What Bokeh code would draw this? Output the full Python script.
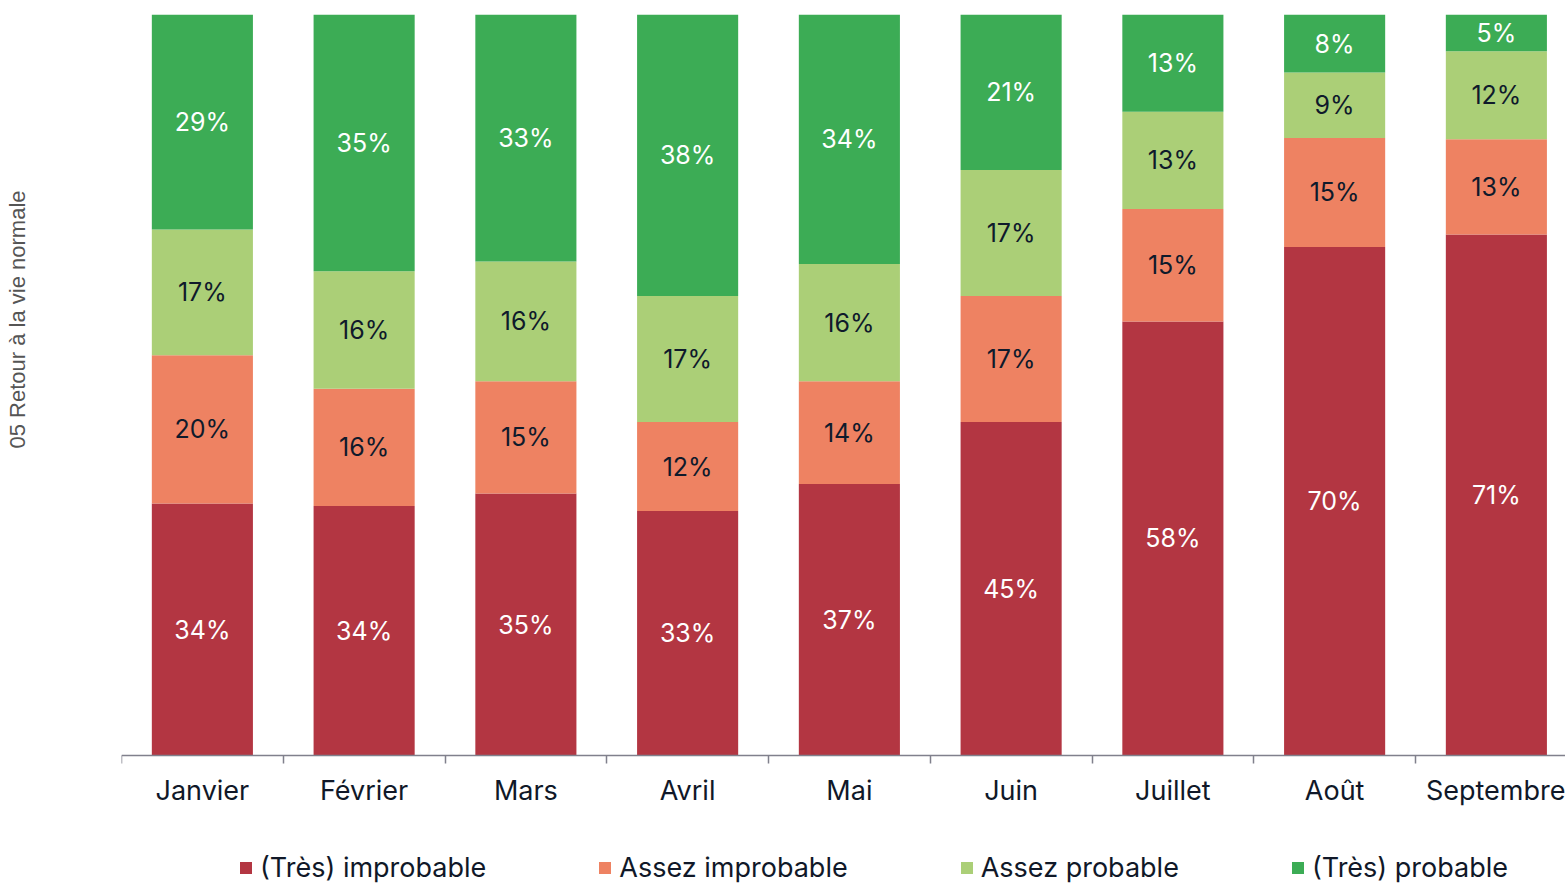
import numpy as np
from bokeh.plotting import figure
from bokeh.models import (ColumnDataSource, Range1d, FixedTicker, CustomJSTickFormatter,
                          Legend, LegendItem, Title)
from bokeh.core.properties import value
from bokeh.embed import file_html
from bokeh.resources import INLINE

# ---------------- data ----------------
months = ["Janvier", "Février", "Mars", "Avril", "Mai", "Juin", "Juillet", "Août", "Septembre"]
tres_improbable = [34, 34, 35, 33, 37, 45, 58, 70, 71]
assez_improbable = [20, 16, 15, 12, 14, 17, 15, 15, 13]
assez_probable = [17, 16, 16, 17, 16, 17, 13, 9, 12]
tres_probable = [29, 35, 33, 38, 34, 21, 13, 8, 5]
series_names = ["(Très) improbable", "Assez improbable", "Assez probable", "(Très) probable"]
y_title = "05 Retour à la vie normale"

# ---------------- styles ----------------
colors = ["#B33642", "#EE8262", "#ABCF77", "#3CAC55"]
label_colors = ["#FFFFFF", "#0F1A2B", "#0F1A2B", "#FFFFFF"]
FONT = "Inter"

vals = np.array([tres_improbable, assez_improbable, assez_probable, tres_probable], dtype=float)
totals = vals.sum(axis=0)
frac = vals / totals
cum = np.cumsum(frac, axis=0)
mid = cum - frac / 2
xs = np.arange(1, len(months) + 1)
keys = ["s0", "s1", "s2", "s3"]

src = ColumnDataSource(dict(x=xs, **{k: frac[i] for i, k in enumerate(keys)}))

W, H = 1565, 883
left_px, top_px = 121, 14
px_per_cat = 161.75
frame_w = W - left_px
bar_px = 741.0          # pixel height of the 0..1 value span
below_px = H - top_px - bar_px   # room below the baseline for tick labels and legend
p = figure(width=W, height=H, output_backend="svg", toolbar_location=None,
           x_range=Range1d(0.5, 0.5 + frame_w / px_per_cat),
           y_range=Range1d(-below_px / bar_px, 1),
           y_axis_location=None,
           min_border_left=left_px, min_border_right=0, min_border_top=top_px, min_border_bottom=0)
p.outline_line_color = None
p.grid.visible = False
p.background_fill_color = "white"

renderers = p.vbar_stack(keys, x="x", width=0.625, color=colors, line_color=None, source=src)

for i in range(4):
    lsrc = ColumnDataSource(dict(x=xs, y=mid[i], t=[f"{int(v)}%" for v in vals[i]]))
    p.text(x="x", y="y", text="t", source=lsrc, text_align="center", text_baseline="middle",
           text_font=value(FONT), text_font_size="25px", text_color=label_colors[i])

ax = p.xaxis[0]
ax.fixed_location = 0
ax.ticker = FixedTicker(ticks=list(xs), minor_ticks=list(np.arange(0.5, len(months) + 1, 1.0)))
ax.formatter = CustomJSTickFormatter(args=dict(names=months),
                                     code="return names[Math.round(tick) - 1] || '';")
ax.axis_line_color = "#80808C"
ax.axis_line_width = 1.5
ax.major_tick_line_color = None
ax.major_tick_out = 0
ax.major_tick_in = 0
ax.minor_tick_line_color = "#80808C"
ax.minor_tick_line_width = 1.5
ax.minor_tick_out = 8
ax.minor_tick_in = 0
ax.major_label_standoff = 10
ax.major_label_text_font = FONT
ax.major_label_text_font_size = "27px"
ax.major_label_text_color = "#101828"

legend = Legend(items=[LegendItem(label=series_names[i], renderers=[renderers[i]]) for i in range(4)],
                orientation="horizontal", location=(117, -1),
                glyph_width=15, glyph_height=15, label_standoff=7, spacing=111,
                label_text_font=FONT, label_text_font_size="27px", label_text_color="#101828",
                border_line_color=None, background_fill_alpha=0, padding=0, margin=0,
                label_height=26)
p.add_layout(legend, "center")

# blank spacer panel between the frame and the vertical title
p.add_layout(Title(text=" ", standoff=62, text_font_size="22px"), "left")
t = Title(text=y_title, align="left", offset=435, standoff=2, vertical_align="top",
          text_font="Liberation Sans",
          text_font_size="22px", text_font_style="normal", text_color="#555555")
p.add_layout(t, "left")

open("out.html", "w").write(file_html(p, INLINE))
